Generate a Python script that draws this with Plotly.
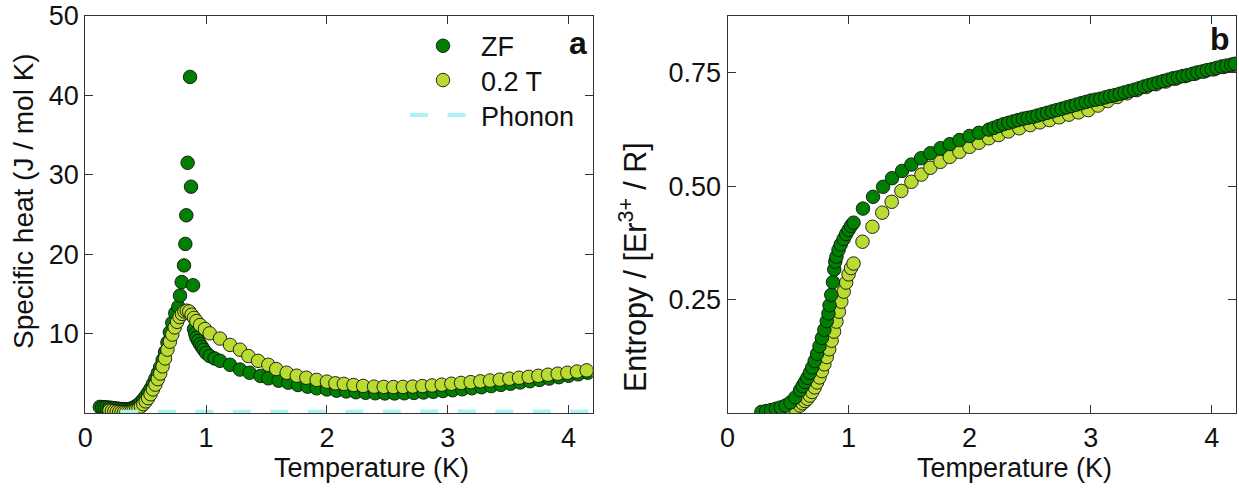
import plotly.graph_objects as go

# ---------------- data: panel a (specific heat) ----------------
T_zf_c = [0.12,0.14,0.16,0.18,0.20,0.22,0.24,0.26,0.28,0.30,0.32,0.34,0.36,0.38,0.40,0.42,0.44,0.46,0.48,0.50,
          0.52,0.54,0.56,0.58,0.60,0.62,0.64,0.66,0.68,0.70,0.72,0.745,0.77,0.784,0.798,0.817,0.828,0.836,0.847,
          0.867,0.875,0.892,0.90,0.91,0.92,0.935,0.95,0.965,0.98,1.0,1.03,1.07,1.115,1.198,1.28,1.36,1.45,1.515,
          1.6,1.68,1.76,1.84,1.915,2.0,2.08,2.16,2.24,2.32,2.40,2.48,2.56,2.64,2.72,2.80,2.88,2.96,3.04,3.12,3.2,
          3.28,3.36,3.44,3.52,3.6,3.68,3.76,3.84,3.92,4.0,4.08,4.16]
C_zf = [0.8,0.78,0.76,0.74,0.71,0.68,0.64,0.6,0.56,0.53,0.5,0.5,0.52,0.6,0.72,0.9,1.1,1.4,1.75,2.15,
        2.6,3.1,3.7,4.35,5.05,5.8,6.7,7.7,8.9,10.2,11.4,12.6,13.4,14.8,16.5,18.6,21.3,24.9,31.5,
        42.3,28.5,16.1,10.6,10.0,9.5,9.1,8.7,8.35,8.0,7.6,7.2,6.9,6.6,6.1,5.5,5.1,4.7,4.4,
        4.1,3.85,3.56,3.35,3.14,3.0,2.85,2.75,2.65,2.58,2.52,2.5,2.5,2.52,2.56,2.62,2.7,2.8,2.9,3.02,3.15,
        3.28,3.42,3.57,3.72,3.88,4.04,4.2,4.37,4.54,4.72,4.9,5.1]

T_02_c = [0.20,0.22,0.24,0.26,0.28,0.30,0.32,0.34,0.36,0.38,0.40,0.42,0.44,0.46,0.48,0.50,0.52,0.54,0.56,0.58,
          0.60,0.62,0.64,0.66,0.68,0.70,0.72,0.74,0.76,0.78,0.80,0.82,0.84,0.86,0.88,0.90,0.92,0.95,0.99,1.03,
          1.115,1.198,1.28,1.35,1.43,1.515,1.58,1.667,1.75,1.83,1.915,2.0,2.07,2.14,2.22,2.3,2.39,2.47,2.55,
          2.63,2.71,2.79,2.87,2.95,3.03,3.11,3.19,3.27,3.35,3.43,3.51,3.59,3.67,3.75,3.83,3.91,3.99,4.07,4.15]
C_02 = [0.35,0.3,0.25,0.2,0.15,0.12,0.1,0.1,0.12,0.18,0.28,0.42,0.6,0.85,1.15,1.5,1.9,2.4,3.0,3.6,
        4.3,5.0,5.9,6.9,8.0,9.0,9.9,10.8,11.5,12.1,12.5,12.8,12.9,12.8,12.4,12.0,11.6,11.1,10.6,10.06,
        9.4,8.6,8.0,7.2,6.6,6.1,5.57,5.1,4.73,4.47,4.2,3.98,3.77,3.7,3.56,3.44,3.35,3.32,3.3,
        3.32,3.36,3.42,3.5,3.6,3.72,3.82,3.92,4.02,4.12,4.23,4.35,4.47,4.59,4.72,4.85,4.98,5.1,5.25,5.4]

T_ph = [0.29, 1.0, 2.0, 3.0, 4.2]
C_ph = [0.18, 0.18, 0.19, 0.21, 0.24]

# ---------------- data: panel b (entropy) ----------------
T_zf_s = [0.28,0.32,0.36,0.40,0.44,0.48,0.52,0.56,0.60,0.62,0.64,0.66,0.68,0.70,0.72,0.74,0.76,0.78,0.80,0.82,
          0.834,0.843,0.857,0.871,0.882,0.89,0.90,0.917,0.935,0.959,0.98,1.0,1.02,1.041,1.119,1.202,1.285,
          1.359,1.442,1.519,1.599,1.676,1.759,1.836,1.916,1.999,2.076,2.159,2.2,2.24,2.28,2.32,2.36,2.40,
          2.44,2.48,2.52,2.56,2.60,2.64,2.68,2.72,2.76,2.80,2.84,2.88,2.92,2.96,3.0,3.04,3.08,3.12,3.16,3.2,
          3.24,3.28,3.32,3.36,3.40,3.44,3.48,3.52,3.56,3.60,3.64,3.68,3.72,3.76,3.80,3.84,3.88,3.92,3.96,
          4.0,4.04,4.08,4.12,4.16,4.19]
S_zf = [0.003,0.005,0.007,0.01,0.013,0.017,0.024,0.035,0.051,0.06,0.069,0.078,0.089,0.101,0.115,0.131,0.148,0.166,0.184,0.203,
        0.22,0.238,0.261,0.289,0.317,0.334,0.345,0.36,0.372,0.384,0.395,0.404,0.413,0.42,0.451,0.477,0.499,
        0.518,0.534,0.548,0.562,0.573,0.584,0.593,0.602,0.611,0.618,0.625,0.629,0.633,0.637,0.64,0.643,0.646,
        0.649,0.651,0.653,0.656,0.659,0.662,0.665,0.668,0.671,0.674,0.677,0.68,0.683,0.686,0.689,0.691,0.693,0.696,0.699,0.701,
        0.704,0.707,0.71,0.713,0.716,0.72,0.723,0.726,0.729,0.732,0.735,0.738,0.74,0.743,0.745,0.748,0.751,0.753,0.756,
        0.758,0.761,0.764,0.766,0.768,0.77]

T_02_s = [0.36,0.40,0.44,0.48,0.52,0.56,0.60,0.62,0.64,0.66,0.68,0.70,0.72,0.74,0.76,0.78,0.80,0.82,0.84,0.86,
          0.88,0.90,0.92,0.94,0.96,0.98,1.0,1.02,1.041,1.115,1.197,1.278,1.356,1.436,1.519,1.602,1.676,1.759,
          1.836,1.916,1.999,2.076,2.159,2.24,2.32,2.41,2.50,2.58,2.66,2.74,2.82,2.90,2.98,3.06,3.14,3.22,3.30,
          3.38,3.46,3.54,3.62,3.70,3.78,3.86,3.94,4.02,4.10,4.18]
S_02 = [0.001,0.002,0.004,0.006,0.008,0.011,0.017,0.022,0.027,0.032,0.039,0.047,0.057,0.068,0.079,0.093,0.108,0.124,0.141,0.16,
        0.18,0.202,0.224,0.246,0.268,0.288,0.306,0.32,0.33,0.378,0.411,0.442,0.466,0.49,0.51,0.526,0.541,0.554,
        0.565,0.576,0.587,0.596,0.606,0.613,0.621,0.628,0.635,0.641,0.646,0.652,0.658,0.663,0.668,0.678,0.688,0.697,0.705,
        0.712,0.719,0.725,0.731,0.737,0.743,0.748,0.753,0.758,0.763,0.768]

x_ticks = [0, 1, 2, 3, 4]
ya_ticks = [10, 20, 30, 40, 50]
yb_ticks = [0.25, 0.50, 0.75]
yb_ticktext = ["0.25", "0.50", "0.75"]

ZF_COLOR = "#008000"
T02_COLOR = "#b9db32"
PH_COLOR = "#aaf4f8"
FONT = "Liberation Sans, Arial, Helvetica, sans-serif"

W, H = 1239, 491

def px_x(p):
    return p / W

def px_y(p):
    return 1 - p / H

mk_line = dict(color="#111111", width=0.9)
MS = 13.5

fig = go.Figure()
fig.add_trace(go.Scatter(x=T_zf_c, y=C_zf, mode="markers", name="ZF", legend="legend",
                         marker=dict(size=MS, color=ZF_COLOR, line=mk_line),
                         xaxis="x", yaxis="y"))
fig.add_trace(go.Scatter(x=T_02_c, y=C_02, mode="markers", name="0.2 T", legend="legend2",
                         marker=dict(size=MS, color=T02_COLOR, line=mk_line),
                         xaxis="x", yaxis="y"))
fig.add_trace(go.Scatter(x=T_ph, y=C_ph, mode="lines", name="Phonon", legend="legend3",
                         line=dict(color=PH_COLOR, width=4, dash="18px,19.5px"),
                         xaxis="x", yaxis="y"))
fig.add_trace(go.Scatter(x=T_02_s, y=S_02, mode="markers", showlegend=False,
                         marker=dict(size=MS, color=T02_COLOR, line=mk_line),
                         xaxis="x2", yaxis="y2"))
fig.add_trace(go.Scatter(x=T_zf_s, y=S_zf, mode="markers", showlegend=False,
                         marker=dict(size=MS, color=ZF_COLOR, line=mk_line),
                         xaxis="x2", yaxis="y2"))

axis_common = dict(showline=True, linecolor="#333333", linewidth=1.3, mirror="ticks",
                   ticks="inside", ticklen=8, tickwidth=1.2, tickcolor="#333333",
                   showgrid=False, zeroline=False, automargin=False,
                   tickfont=dict(family=FONT, size=27, color="#111111"))

def legend_at(top_px):
    return dict(x=px_x(405), y=px_y(top_px), xanchor="left", yanchor="top",
                bgcolor="rgba(0,0,0,0)", borderwidth=0, itemwidth=66,
                font=dict(family=FONT, size=27, color="#111111"))

ydom = [px_y(413.3), px_y(15.7)]
fig.update_layout(
    width=W, height=H,
    margin=dict(l=0, r=0, t=0, b=0, pad=0, autoexpand=False),
    paper_bgcolor="white", plot_bgcolor="white",
    font=dict(family=FONT, size=27, color="#111111"),
    xaxis=dict(domain=[px_x(85.3), px_x(592.7)], range=[0, 4.2], tickvals=x_ticks,
               anchor="y", **axis_common),
    yaxis=dict(domain=ydom, range=[0, 50], tickvals=ya_ticks, anchor="x", **axis_common),
    xaxis2=dict(domain=[px_x(727.5), px_x(1236.0)], range=[0, 4.2], tickvals=x_ticks,
                anchor="y2", **axis_common),
    yaxis2=dict(domain=ydom, range=[0, 0.876], tickvals=yb_ticks, ticktext=yb_ticktext,
                anchor="x2", **axis_common),
    legend=legend_at(21.7),
    legend2=legend_at(56.0),
    legend3=legend_at(91.0),
    showlegend=True,
)

ann = []
# axis titles
ann.append(dict(text="Temperature (K)", x=px_x(371), y=px_y(468), xref="paper", yref="paper",
                xanchor="center", yanchor="middle", showarrow=False,
                font=dict(family=FONT, size=27, color="#111111")))
ann.append(dict(text="Temperature (K)", x=px_x(1014), y=px_y(468), xref="paper", yref="paper",
                xanchor="center", yanchor="middle", showarrow=False,
                font=dict(family=FONT, size=27, color="#111111")))
ann.append(dict(text="Specific heat (J / mol K)", x=px_x(24), y=px_y(201), xref="paper", yref="paper",
                xanchor="center", yanchor="middle", showarrow=False, textangle=-90,
                font=dict(family=FONT, size=28, color="#111111")))
ann.append(dict(text="Entropy / [Er<sup>3+</sup> / R]", x=px_x(633), y=px_y(267), xref="paper", yref="paper",
                xanchor="center", yanchor="middle", showarrow=False, textangle=-90,
                font=dict(family=FONT, size=30.5, color="#111111")))
# panel labels
ann.append(dict(text="<b>a</b>", x=px_x(589), y=px_y(23), xref="paper", yref="paper",
                xanchor="right", yanchor="top", showarrow=False,
                font=dict(family=FONT, size=32, color="#111111")))
ann.append(dict(text="<b>b</b>", x=px_x(1232), y=px_y(19), xref="paper", yref="paper",
                xanchor="right", yanchor="top", showarrow=False,
                font=dict(family=FONT, size=32, color="#111111")))
fig.update_layout(annotations=ann)

fig.write_html("out.html",
               config={"displayModeBar": False},
               post_script="document.body.style.margin='0px';document.body.style.overflow='hidden';")
